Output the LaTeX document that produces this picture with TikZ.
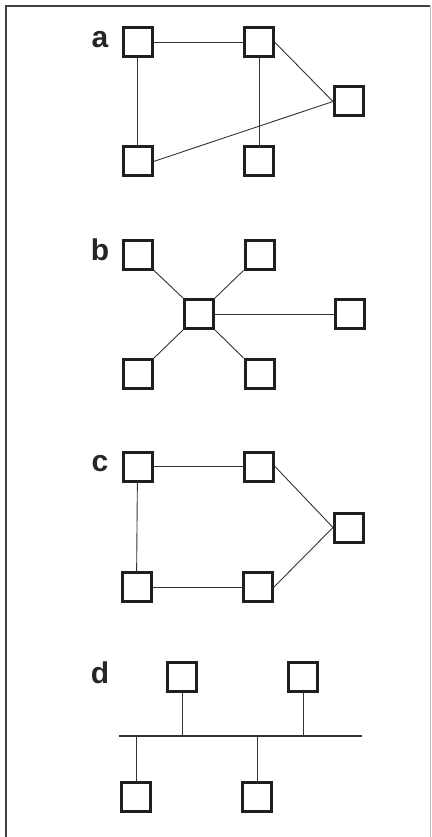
\documentclass[tikz,border=0pt]{standalone}
\usepackage{fontspec}
\setmainfont{Liberation Sans}
\usetikzlibrary{positioning}

\tikzset{
    box/.style={draw=black!88, line width=3pt, minimum size=29pt, inner sep=0pt},
    lbl/.style={text=black!85, font=\bfseries\fontsize{30}{30}\selectfont, inner sep=0pt},
    link/.style={draw=black!80, line width=0.9pt}
}

\begin{document}
\begin{tikzpicture}[x=1pt, y=-1pt]
    \useasboundingbox (0,0) rectangle (431,837);
    % Frame (cut off at the bottom)
    \draw[black!75, line width=2pt] (6,860) -- (6,6) -- (430,6);
    \draw[black!25, line width=0.8pt] (430,6) -- (430,860);

    % Panel a
    \node[lbl] (la) at (100,40) {a};
    \node[box] (a1) at (137.5,42.5) {};
    \node[box] (a2) at (259,42.5) {};
    \node[box] (a3) at (349,101.5) {};
    \node[box] (a4) at (137.5,161.5) {};
    \node[box] (a5) at (259,161.5) {};
    \draw[link] (a1) -- (a2);
    \draw[link] (a1) -- (a4);
    \draw[link] (a2) -- (a5);
    \draw[link] (a2.east) -- (a3.west);
    \draw[link] (a4.east) -- (a3.west);

    % Panel b
    \node[lbl] (lb) at (100,250) {b};
    \node[box] (b1) at (138,254.5) {};
    \node[box] (b2) at (259.5,254.5) {};
    \node[box] (hub) at (199,314) {};
    \node[box] (b3) at (350,314) {};
    \node[box] (b4) at (138,374) {};
    \node[box] (b5) at (259.5,374) {};
    \draw[link] (b1.south east) -- (hub.north west);
    \draw[link] (b2.south west) -- (hub.north east);
    \draw[link] (b4.north east) -- (hub.south west);
    \draw[link] (b5.north west) -- (hub.south east);
    \draw[link] (hub.east) -- (b3.west);

    % Panel c
    \node[lbl] (lc) at (100,464) {c};
    \node[box] (c1) at (137.5,466.5) {};
    \node[box] (c2) at (259,466.5) {};
    \node[box] (c3) at (349,527.5) {};
    \node[box] (c4) at (136.5,587) {};
    \node[box] (c5) at (258,587) {};
    \draw[link] (c1) -- (c2);
    \draw[link] (c1) -- (c4);
    \draw[link] (c4) -- (c5);
    \draw[link] (c2.east) -- (c3.west);
    \draw[link] (c5.east) -- (c3.west);

    % Panel d - bus
    \node[lbl] (ld) at (100,673) {d};
    \coordinate (busL) at (119,736);
    \coordinate (busR) at (362,736);
    \coordinate (t1) at (182,736);
    \coordinate (t2) at (303,736);
    \coordinate (t3) at (136,736);
    \coordinate (t4) at (257,736);
    \node[box] (d1) at (182,677) {};
    \node[box] (d2) at (303,677) {};
    \node[box] (d3) at (136,796.5) {};
    \node[box] (d4) at (257,796.5) {};
    \draw[link, line width=1.2pt] (busL) -- (busR);
    \draw[link] (d1) -- (t1);
    \draw[link] (d2) -- (t2);
    \draw[link] (d3) -- (t3);
    \draw[link] (d4) -- (t4);
\end{tikzpicture}
\end{document}
